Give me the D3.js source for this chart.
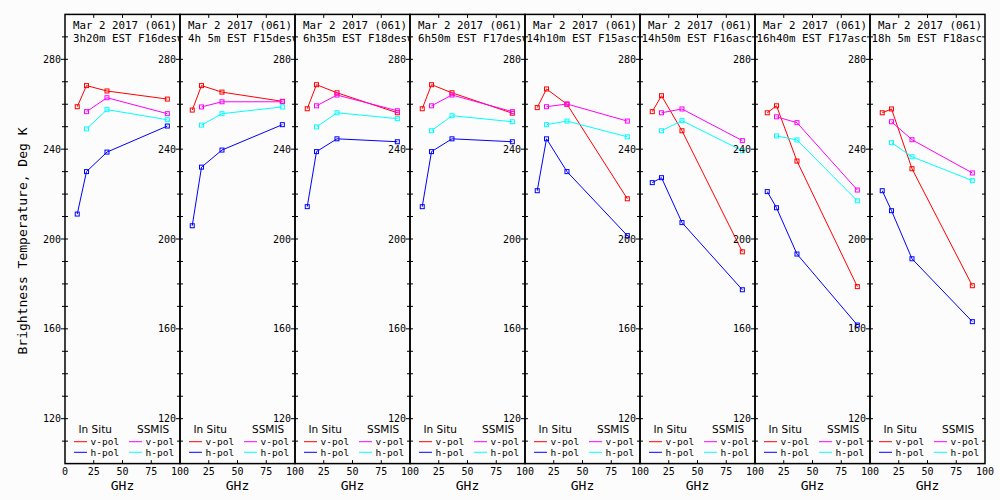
<!DOCTYPE html>
<html>
<head>
<meta charset="utf-8">
<script src="https://cdn.jsdelivr.net/npm/d3@7"></script>
<style>
  html, body { margin: 0; padding: 0; background: #fcfcfc; }
  svg { display: block; }
  text { white-space: pre; }
</style>
</head>
<body>
<svg id="chart" width="1000" height="500"></svg>
<script>
// ---------------- data ----------------
const titleLine1 = " Mar 2 2017 (061)";
const titleLine2 = [" 3h20m EST F16desc", " 4h 5m EST F15desc", " 6h35m EST F18desc", " 6h50m EST F17desc",
                    "14h10m EST F15asc", "14h50m EST F16asc", "16h40m EST F17asc", "18h 5m EST F18asc"];
const inSituFreq = [10.65, 18.7, 36.5, 89.0];
const ssmisFreq = [18.7, 36.5, 89.0];
const inSituV = [
  [258.9, 268.3, 265.9, 262.3],
  [257.4, 268.3, 265.4, 261.3],
  [258.0, 268.7, 265.1, 256.2],
  [258.0, 268.7, 265.1, 256.0],
  [258.5, 266.8, 260.0, 217.9],
  [256.7, 263.8, 248.2, 194.3],
  [256.2, 259.3, 234.7, 178.8],
  [256.2, 257.9, 231.3, 179.2]
];
const inSituH = [
  [211.1, 230.0, 238.7, 250.3],
  [205.9, 232.0, 239.6, 250.9],
  [214.4, 238.9, 244.6, 243.3],
  [214.4, 238.9, 244.6, 243.3],
  [221.5, 244.6, 230.0, 201.5],
  [225.1, 227.3, 207.3, 177.4],
  [221.1, 213.9, 193.3, 161.7],
  [221.5, 212.6, 191.2, 163.2]
];
const ssmisV = [
  [256.7, 262.9, 255.8],
  [258.8, 261.1, 261.1],
  [259.3, 264.1, 257.1],
  [259.3, 264.1, 256.7],
  [258.9, 260.1, 252.5],
  [256.2, 257.9, 243.8],
  [254.4, 251.8, 221.8],
  [252.2, 244.2, 229.4]
];
const ssmisH = [
  [249.0, 257.6, 253.1],
  [250.7, 255.8, 258.8],
  [249.9, 256.2, 253.6],
  [248.2, 254.9, 252.2],
  [250.9, 252.5, 245.5],
  [248.2, 252.7, 239.3],
  [245.9, 244.1, 217.0],
  [242.9, 236.6, 226.0]
];
const yMajorTicks = [120, 160, 200, 240, 280];
const yMinorTicks = [110, 130, 140, 150, 170, 180, 190, 210, 220, 230, 250, 260, 270, 290];
const xTicks = [0, 25, 50, 75, 100];
const yTitle = "Brightness Temperature, Deg K";
const xTitle = "GHz";
const legendHeads = ["In Situ", "SSMIS"];
const legendLabels = ["v-pol", "h-pol"];

(function () {
  const svg = d3.select("#chart");
  svg.append("rect").attr("width", 1000).attr("height", 500).attr("fill", "#fcfcfc");

  const nPanels = 8;
  const plotLeft = 65, panelW = 115, plotTop = 14.4, plotBottom = 463.6;
  const y = d3.scaleLinear().domain([100, 300]).range([plotBottom, plotTop]);
  const mono = "'DejaVu Sans Mono', monospace";
  const sans = "'DejaVu Sans', sans-serif";
  const colors = { iv: "#ff0000", ih: "#0000ff", sv: "#ff00ff", sh: "#00ffff" };

  const defs = svg.append("defs");

  for (let i = 0; i < nPanels; i++) {
    const x0 = plotLeft + i * panelW, x1 = x0 + panelW;
    const x = d3.scaleLinear().domain([0, 100]).range([x0, x1]);
    const g = svg.append("g");

    defs.append("clipPath").attr("id", "clip" + i)
      .append("rect").attr("x", x0).attr("y", plotTop).attr("width", panelW).attr("height", plotBottom - plotTop);

    const series = [
      { f: inSituFreq, v: inSituV[i], c: colors.iv },
      { f: inSituFreq, v: inSituH[i], c: colors.ih },
      { f: ssmisFreq, v: ssmisV[i], c: colors.sv },
      { f: ssmisFreq, v: ssmisH[i], c: colors.sh }
    ];
    const line = d3.line().x(d => x(d[0])).y(d => y(d[1]));
    series.forEach(s => {
      const pts = s.f.map((f, k) => [f, s.v[k]]);
      g.append("path").attr("d", line(pts)).attr("fill", "none")
        .attr("stroke", s.c).attr("stroke-width", 1);
      g.selectAll(null).data(pts).enter().append("rect")
        .attr("x", d => x(d[0]) - 2).attr("y", d => y(d[1]) - 2)
        .attr("width", 4).attr("height", 4)
        .attr("fill", "none").attr("stroke", s.c).attr("stroke-width", 1);
    });

    const tg = g.append("g").attr("clip-path", `url(#clip${i})`);
    tg.append("text").attr("x", x0 + 1.5).attr("y", 28.5)
      .attr("font-family", mono).attr("font-size", 10.8).attr("fill", "#000").text(titleLine1);
    tg.append("text").attr("x", x0 + 1.5).attr("y", 42)
      .attr("font-family", mono).attr("font-size", 10.8).attr("fill", "#000").text(titleLine2[i]);

    g.append("rect").attr("x", x0).attr("y", plotTop).attr("width", panelW).attr("height", plotBottom - plotTop)
      .attr("fill", "none").attr("stroke", "#000").attr("stroke-width", 1.5);

    g.selectAll(null).data(yMinorTicks).enter().append("line")
      .attr("x1", x0 - 3).attr("x2", x0 + 3)
      .attr("y1", d => y(d)).attr("y2", d => y(d))
      .attr("stroke", "#000").attr("stroke-width", 1);
    g.selectAll(null).data(yMajorTicks).enter().append("line")
      .attr("x1", x0 - 4).attr("x2", x0 + 3)
      .attr("y1", d => y(d)).attr("y2", d => y(d))
      .attr("stroke", "#000").attr("stroke-width", 1);
    g.selectAll(null).data(yMajorTicks).enter().append("text")
      .attr("x", x0 - 4).attr("y", d => y(d) + 3.6)
      .attr("text-anchor", "end").attr("font-family", mono).attr("font-size", 10)
      .attr("fill", "#000").text(d => d);

    if (i === nPanels - 1) {
      g.selectAll(null).data(yMinorTicks.concat(yMajorTicks)).enter().append("line")
        .attr("x1", x1 - 3).attr("x2", x1)
        .attr("y1", d => y(d)).attr("y2", d => y(d))
        .attr("stroke", "#000").attr("stroke-width", 1);
    }

    const inner = xTicks.slice(1, -1);
    g.selectAll(null).data(inner).enter().append("line")
      .attr("x1", d => x(d)).attr("x2", d => x(d)).attr("y1", plotTop).attr("y2", plotTop + 3.5)
      .attr("stroke", "#000").attr("stroke-width", 1);
    g.selectAll(null).data(inner).enter().append("line")
      .attr("x1", d => x(d)).attr("x2", d => x(d)).attr("y1", plotBottom).attr("y2", plotBottom - 3.5)
      .attr("stroke", "#000").attr("stroke-width", 1);
    const xl = i === 0 ? xTicks : xTicks.slice(1);
    g.selectAll(null).data(xl).enter().append("text")
      .attr("x", d => x(d)).attr("y", 474.5).attr("text-anchor", "middle")
      .attr("font-family", mono).attr("font-size", 10).attr("fill", "#000").text(d => d);

    g.append("text").attr("x", (x0 + x1) / 2).attr("y", 490).attr("text-anchor", "middle")
      .attr("font-family", mono).attr("font-size", 13).attr("fill", "#000").text(xTitle);

    const lg = g.append("g").attr("fill", "#000");
    lg.append("text").attr("x", x0 + 13.5).attr("y", 433)
      .attr("font-family", sans).attr("font-size", 10.5).text(legendHeads[0]);
    lg.append("text").attr("x", x0 + 72).attr("y", 433)
      .attr("font-family", sans).attr("font-size", 10.5).text(legendHeads[1]);
    const rows = [[colors.iv, colors.sv], [colors.ih, colors.sh]];
    [441.7, 452.3].forEach((ly, r) => {
      lg.append("line").attr("x1", x0 + 9).attr("x2", x0 + 22).attr("y1", ly).attr("y2", ly)
        .attr("stroke", rows[r][0]).attr("stroke-width", 1);
      lg.append("text").attr("x", x0 + 25.5).attr("y", ly + 3.5)
        .attr("font-family", mono).attr("font-size", 9.5).text(legendLabels[r]);
      lg.append("line").attr("x1", x0 + 64).attr("x2", x0 + 77).attr("y1", ly).attr("y2", ly)
        .attr("stroke", rows[r][1]).attr("stroke-width", 1);
      lg.append("text").attr("x", x0 + 80.5).attr("y", ly + 3.5)
        .attr("font-family", mono).attr("font-size", 9.5).text(legendLabels[r]);
    });
  }

  svg.append("text")
    .attr("transform", "translate(27,241) rotate(-90)")
    .attr("text-anchor", "middle").attr("font-family", mono).attr("font-size", 13)
    .attr("fill", "#000").text(yTitle);
})();
</script>
</body>
</html>
